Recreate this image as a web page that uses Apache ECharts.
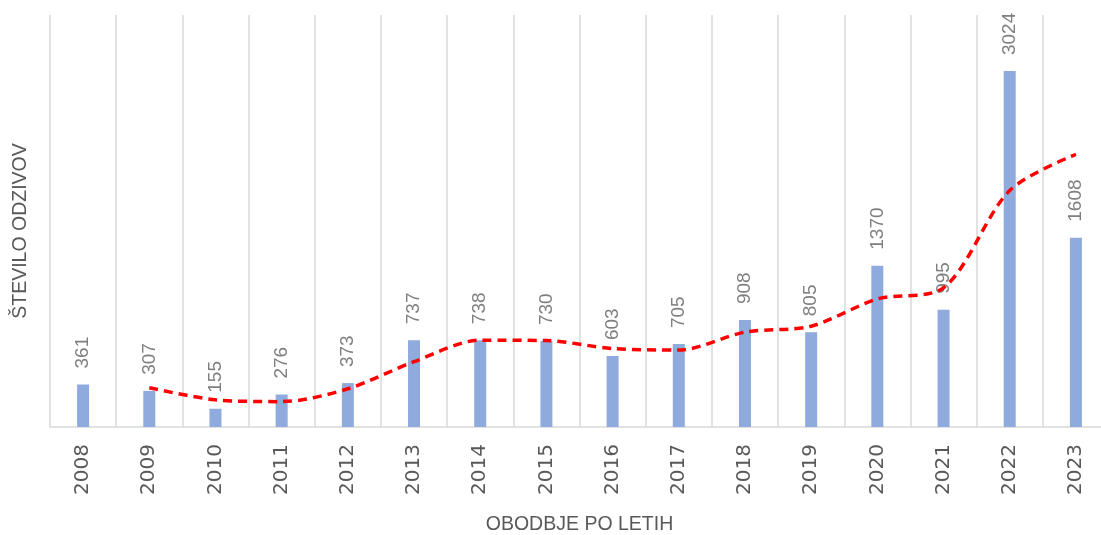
<!DOCTYPE html>
<html>
<head>
<meta charset="utf-8">
<script src="https://cdn.jsdelivr.net/npm/echarts@6/dist/echarts.min.js"></script>
<style>
  html, body { margin: 0; padding: 0; background: #fff; }
  #main { width: 1101px; height: 535px; }
</style>
</head>
<body>
<div id="main"></div>
<script>
// podatki
var years = ['2008', '2009', '2010', '2011', '2012', '2013', '2014', '2015',
             '2016', '2017', '2018', '2019', '2020', '2021', '2022', '2023'];
var responses = [361, 307, 155, 276, 373, 737, 738, 730, 603, 705, 908, 805, 1370, 995, 3024, 1608];
// drseče povprečje (2 obdobji), odčitano s slike
var trend = [null, 334, 231, 215.5, 324.5, 555, 737.5, 734, 666.5, 654, 806.5, 856.5, 1087.5, 1182.5, 2009.5, 2316];

var myChart = echarts.init(document.getElementById('main'));

myChart.setOption({
  animation: false,
  grid: { left: 50, top: 15, width: 1059, height: 412, outerBoundsMode: 'none', containLabel: false },
  xAxis: {
    type: 'category',
    data: years,
    name: 'OBODBJE PO LETIH',
    nameLocation: 'middle',
    nameGap: 88,
    nameMoveOverlap: false,
    nameTextStyle: { color: '#595959', fontSize: 19.5, fontFamily: 'Liberation Sans', verticalAlign: 'top' },
    axisLine: { lineStyle: { color: '#D9D9D9', width: 1.5 } },
    axisTick: { show: false },
    axisLabel: {
      rotate: 90,
      margin: 17,
      color: '#595959',
      fontSize: 20,
      fontFamily: 'DejaVu Sans'
    },
    splitLine: { show: true, lineStyle: { color: '#D9D9D9', width: 1.5 } }
  },
  yAxis: {
    type: 'value',
    min: 0,
    max: 3500,
    name: 'ŠTEVILO ODZIVOV',
    nameLocation: 'middle',
    nameGap: 19,
    nameMoveOverlap: false,
    nameTextStyle: {
      color: '#595959', fontSize: 19.5, fontFamily: 'Liberation Sans',
      padding: [0, 20, 0, 0]
    },
    axisLine: { show: false },
    axisTick: { show: false },
    axisLabel: { show: false },
    splitLine: { show: false }
  },
  series: [{
    name: 'Število odzivov',
    type: 'bar',
    data: responses,
    barWidth: 12,
    itemStyle: { color: '#8FAADC' },
    label: {
      show: true,
      position: 'top',
      rotate: 90,
      align: 'left',
      verticalAlign: 'middle',
      distance: 16,
      color: '#7F7F7F',
      fontSize: 19,
      fontFamily: 'Liberation Sans'
    }
  }, {
    name: 'Trend',
    type: 'line',
    data: trend,
    smooth: 0.3,
    symbol: 'none',
    lineStyle: { color: '#FF0000', width: 3.5, type: [9, 6] },
    z: 5
  }]
});
</script>
</body>
</html>
